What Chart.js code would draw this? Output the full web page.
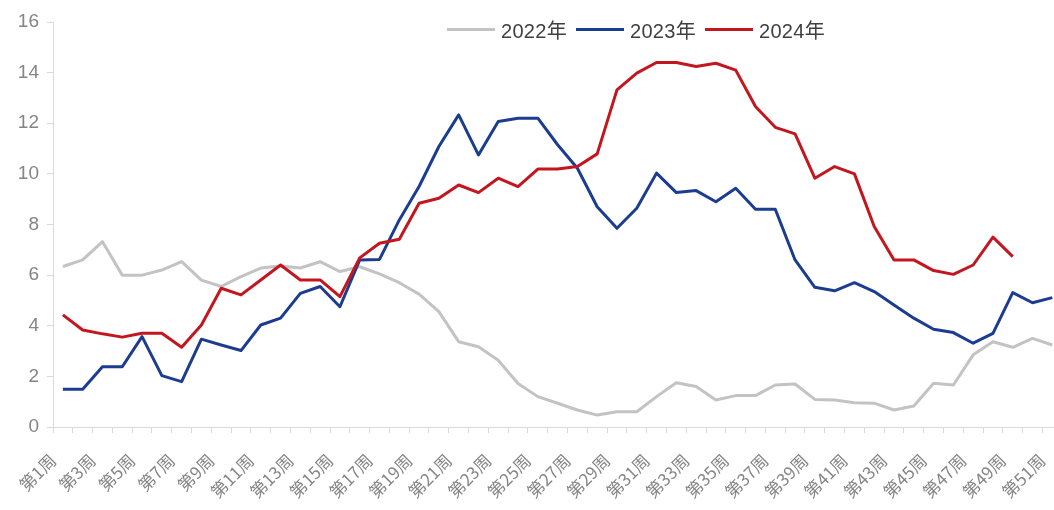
<!DOCTYPE html>
<html>
<head>
<meta charset="utf-8">
<script src="https://cdn.jsdelivr.net/npm/chart.js@4"></script>
<style>
  html, body { margin: 0; padding: 0; background: #fff; overflow: hidden; }
  #wrap { position: relative; width: 1082px; height: 510px; }
  #legend {
    position: absolute; top: 15px; left: 447px;
    display: flex; align-items: center; gap: 9px;
    font: 20px 'Liberation Sans', 'Noto Sans CJK SC', sans-serif; color: #404040;
    letter-spacing: 0.3px;
  }
  .item { display: flex; align-items: center; gap: 6px; }
  .swatch { width: 48px; height: 3px; }
</style>
</head>
<body>
<div id="wrap">
  <canvas id="chart"></canvas>
  <div id="legend"></div>
</div>
<script>
const weeks = [
  '第1周', '第2周', '第3周', '第4周', '第5周', '第6周', '第7周', '第8周', '第9周', '第10周',
  '第11周', '第12周', '第13周', '第14周', '第15周', '第16周', '第17周', '第18周', '第19周', '第20周',
  '第21周', '第22周', '第23周', '第24周', '第25周', '第26周', '第27周', '第28周', '第29周', '第30周',
  '第31周', '第32周', '第33周', '第34周', '第35周', '第36周', '第37周', '第38周', '第39周', '第40周',
  '第41周', '第42周', '第43周', '第44周', '第45周', '第46周', '第47周', '第48周', '第49周', '第50周',
  '第51周', '第52周'
];

const seriesNames = ['2022年', '2023年', '2024年'];
const seriesColors = ['#c3c3c3', '#1c3d8f', '#c3161e'];

const y2022 = [
  6.34, 6.6, 7.32, 6.0, 6.0, 6.2, 6.53, 5.8, 5.55, 5.94,
  6.28, 6.36, 6.28, 6.53, 6.14, 6.33, 6.05, 5.7, 5.25, 4.56,
  3.37, 3.17, 2.64, 1.72, 1.2, 0.94, 0.67, 0.47, 0.6, 0.6,
  1.2, 1.75, 1.6, 1.07, 1.24, 1.24, 1.66, 1.7, 1.09, 1.07,
  0.96, 0.94, 0.67, 0.83, 1.73, 1.66, 2.85, 3.37, 3.15, 3.5,
  3.24
];

const y2023 = [
  1.49, 1.49, 2.38, 2.38, 3.57, 2.03, 1.79, 3.47, 3.24, 3.02,
  4.03, 4.3, 5.28, 5.55, 4.75, 6.6, 6.62, 8.18, 9.5, 11.08,
  12.33, 10.75, 12.07, 12.2, 12.2, 11.15, 10.22, 8.7, 7.85, 8.64,
  10.03, 9.26, 9.34, 8.9, 9.43, 8.6, 8.6, 6.6, 5.52, 5.38,
  5.7, 5.35, 4.82, 4.3, 3.86, 3.73, 3.31, 3.7, 5.31, 4.91,
  5.11
];

const y2024 = [
  4.43, 3.83, 3.68, 3.55, 3.7, 3.7, 3.15, 4.03, 5.48, 5.22,
  5.81, 6.4, 5.81, 5.81, 5.15, 6.68, 7.26, 7.42, 8.84, 9.04,
  9.56, 9.26, 9.83, 9.5, 10.19, 10.19, 10.29, 10.79, 13.32, 13.98,
  14.4, 14.4, 14.24, 14.37, 14.1, 12.66, 11.84, 11.58, 9.83, 10.29,
  10.0, 7.92, 6.6, 6.6, 6.18, 6.03, 6.4, 7.5, 6.73
];

const seriesData = [y2022, y2023, y2024];

const axisColor = '#d9d9d9';
const tickColor = '#858585';
const latin = "'Liberation Sans', 'Noto Sans CJK SC', sans-serif";

// html legend, same order as excel
document.getElementById('legend').innerHTML = seriesNames.map((name, i) => `
  <div class="item">
    <span class="swatch" style="background:${seriesColors[i]}"></span>
    <span>${name}</span>
  </div>`).join('');

new Chart(document.getElementById('chart'), {
  type: 'line',
  data: {
    labels: weeks,
    datasets: seriesData.map((d, i) => ({
      label: seriesNames[i],
      data: d,
      borderColor: seriesColors[i],
      backgroundColor: seriesColors[i],
      borderWidth: 3,
      pointRadius: 0,
      tension: 0,
      borderJoinStyle: 'round',
      order: 3 - i
    }))
  },
  options: {
    responsive: true,
    maintainAspectRatio: false,
    animation: false,
    layout: { padding: { top: 22, right: 0, bottom: 0, left: 0 } },
    plugins: {
      legend: { display: false },
      tooltip: { enabled: false }
    },
    scales: {
      x: {
        offset: true,
        afterFit: s => {
          s.height = 83;
          // the picture is cropped on the right, keep the plot running to the edge
          s.paddingLeft = 0;
          s.paddingRight = 0;
        },
        border: { color: axisColor, width: 1 },
        grid: { drawOnChartArea: false, offset: true, tickLength: 6, color: axisColor },
        ticks: {
          autoSkip: false,
          minRotation: 45,
          maxRotation: 45,
          padding: 17,
          labelOffset: -10,
          color: tickColor,
          font: { family: "'Noto Sans CJK SC', sans-serif", size: 17 },
          callback: (v, i) => i % 2 === 0 ? weeks[i] : ''
        }
      },
      y: {
        min: 0,
        max: 16,
        afterFit: s => { s.width = 53; },
        border: { color: axisColor, width: 1 },
        grid: { drawOnChartArea: false, tickLength: 6, color: axisColor },
        ticks: {
          stepSize: 2,
          padding: 8,
          color: tickColor,
          font: { family: latin, size: 19 }
        }
      }
    }
  }
});
</script>
</body>
</html>
